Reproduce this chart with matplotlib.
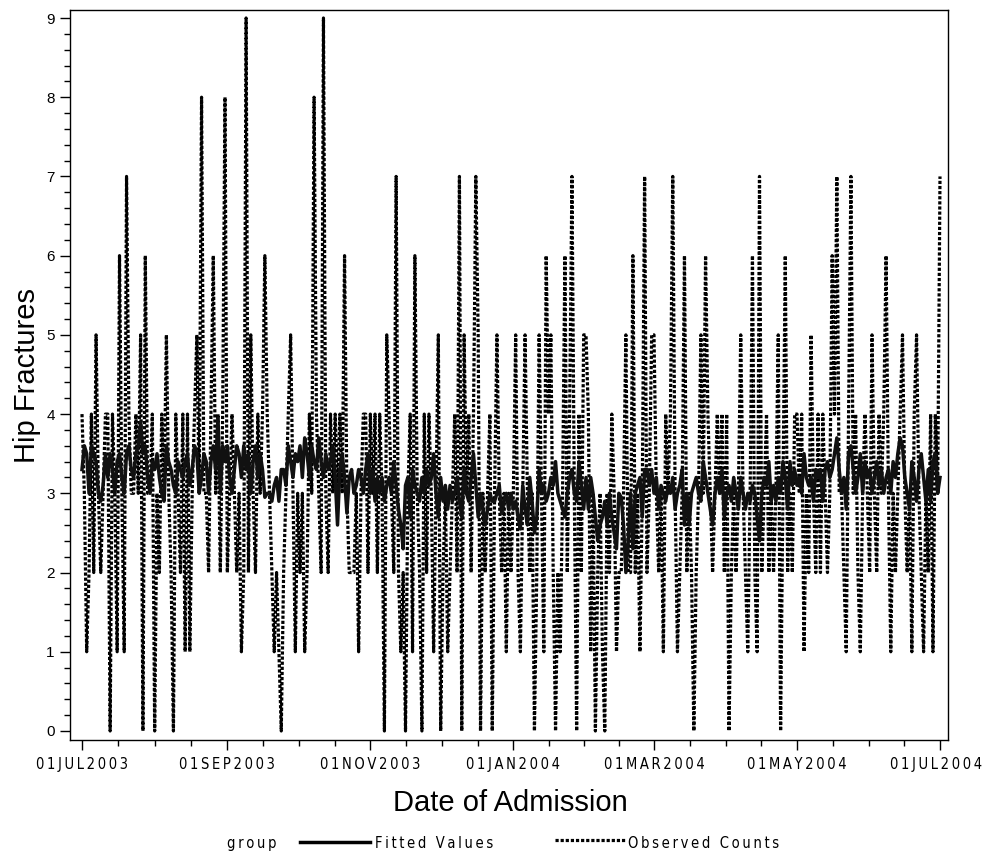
import numpy as np
import pandas as pd
import matplotlib
matplotlib.use("Agg")
import matplotlib.pyplot as plt
import matplotlib.dates as mdates
from matplotlib.lines import Line2D

# ---------------- data (daily, 01JUL2003 .. 01JUL2004) ----------------
obs_jul03 = [4,3,1,2,4,2,5,3,2,3,4,4,0,4,3,1,6,3,1,7,4,3,3,4,3,5,0,6,3,3,4]
obs_aug03 = [0,3,2,4,3,5,3,2,0,4,3,2,4,1,4,1,3,4,5,3,8,3,3,2,4,6,3,4,2,4,8]
obs_sep03 = [2,3,4,3,2,3,1,2,9,2,5,3,2,4,3,4,6,4,3,2,1,2,1,0,2,3,4,5,3,1]
obs_oct03 = [3,2,3,1,2,4,3,8,4,3,2,9,3,2,4,3,4,3,4,3,6,3,2,2,2,3,1,3,4,4,2]
obs_nov03 = [4,3,4,2,4,3,0,5,4,3,2,7,2,1,2,0,3,4,1,6,3,2,0,4,2,4,3,1,3,5]
obs_dec03 = [0,2,3,1,2,3,4,2,7,0,5,3,4,2,4,7,5,0,3,2,3,4,0,3,5,3,2,3,1,3,2]
obs_jan04 = [3,5,2,1,3,5,3,2,3,0,2,5,3,1,6,4,5,2,0,2,1,3,6,2,4,7,3,0,4,2,5]
obs_feb04 = [5,4,1,3,0,2,3,1,0,3,2,4,3,1,2,2,3,5,2,2,6,2,3,1,3,7,2,3,5]
obs_mar04 = [5,3,2,3,1,4,3,4,7,3,1,2,3,6,2,3,2,0,2,3,5,3,6,4,3,2,3,4,3,4,2]
obs_apr04 = [4,0,2,3,2,3,5,3,2,1,3,6,2,1,7,2,3,4,2,3,2,3,5,0,3,6,2,3,2,4]
obs_may04 = [4,3,4,1,3,2,5,3,2,4,2,4,3,2,3,6,4,7,3,3,2,1,4,7,3,4,2,1,3,4,3]
obs_jun04 = [2,5,3,2,4,3,4,6,3,1,3,2,3,4,5,3,2,3,1,4,5,3,2,1,3,2,4,1,4,3]
obs_jul04 = [7]

fit_jul03 = [3.3,3.6,3.5,3.0,3.6,3.5,3.4,3.0,2.9,3.1,3.5,3.2,3.5,3.3,3.0,3.4,3.5,3.2,3.0,3.5,3.6,3.3,3.2,3.5,3.6,3.9,3.5,3.6,3.2,3.0,3.4]
fit_aug03 = [3.3,3.5,3.2,3.0,2.9,3.6,3.4,3.3,3.1,3.0,3.4,3.3,3.2,3.4,3.5,3.1,3.3,3.6,3.5,3.0,3.2,3.5,3.4,3.0,3.4,3.6,3.3,3.95,3.0,3.6,3.4]
fit_sep03 = [3.6,3.2,3.0,3.3,3.6,3.5,3.2,3.6,3.3,3.5,3.0,3.4,3.6,3.2,3.5,3.3,2.95,3.0,3.0,2.9,3.1,3.2,2.9,3.3,3.3,3.1,3.6,3.4,3.2,3.5]
fit_oct03 = [3.4,3.6,3.2,3.7,3.5,3.2,3.6,3.4,3.3,3.7,3.4,3.2,3.5,3.3,3.4,3.6,3.2,2.6,3.3,3.5,3.2,2.75,3.2,3.3,3.0,3.1,3.3,3.2,3.0,3.3,3.5]
fit_nov03 = [3.0,3.3,2.9,3.2,3.0,3.2,2.9,3.1,3.2,3.0,3.4,3.1,2.8,2.6,2.3,3.1,3.2,2.7,3.3,3.1,3.0,2.9,3.2,3.0,3.3,3.1,3.2,3.5,3.0,2.7]
fit_dec03 = [3.2,2.9,3.1,2.8,3.1,2.9,3.0,3.2,2.9,2.7,3.3,3.0,2.9,3.2,3.5,3.1,2.7,3.0,2.8,2.6,2.8,3.0,2.9,2.9,3.0,3.1,2.75,2.9,3.0,2.8,3.0]
fit_jan04 = [2.8,2.9,2.7,2.55,3.1,2.8,2.6,3.2,2.9,2.5,2.7,3.3,3.0,3.1,2.9,3.0,3.2,3.1,3.4,3.0,2.9,2.8,2.7,3.0,3.2,3.3,3.0,2.9,3.4,3.1,2.8]
fit_feb04 = [3.2,2.8,3.2,3.0,2.7,2.4,2.6,2.7,2.9,2.6,3.0,2.7,2.5,2.3,3.0,2.95,2.6,2.0,2.4,3.0,2.3,3.0,3.1,3.2,2.7,3.3,3.3,3.1,3.3]
fit_mar04 = [3.0,3.2,2.8,3.1,3.0,2.9,3.1,3.0,3.2,2.8,3.0,3.1,3.3,2.6,3.0,2.6,3.0,3.1,3.2,3.0,2.9,3.4,3.2,3.0,2.8,2.6,3.0,3.2,3.0,3.3,2.7]
fit_apr04 = [3.0,3.1,2.9,3.2,3.0,2.8,3.2,3.0,2.8,3.0,2.9,3.1,3.0,2.7,2.4,3.0,3.2,3.1,3.4,2.9,3.1,2.9,3.2,3.0,3.4,3.2,2.8,3.4,3.1,3.3]
fit_may04 = [3.1,3.2,3.0,3.5,3.2,3.1,3.2,2.9,3.3,3.2,3.3,2.9,3.3,3.4,3.2,3.3,3.5,3.7,3.3,3.0,3.2,2.8,3.5,3.6,3.3,3.0,3.2,3.5,3.0,3.4,3.2]
fit_jun04 = [3.3,3.0,3.2,3.4,3.1,3.3,3.0,3.2,3.3,3.0,3.4,3.2,3.5,3.7,3.6,3.2,3.0,2.8,3.4,3.2,2.9,3.3,3.5,3.2,2.9,3.3,2.9,3.4,3.5,3.0]
fit_jul04 = [3.2]

tick_dates = ["2003-07-01", "2003-09-01", "2003-11-01", "2004-01-01",
              "2004-03-01", "2004-05-01", "2004-07-01"]
tick_labels = ["01JUL2003", "01SEP2003", "01NOV2003", "01JAN2004",
               "01MAR2004", "01MAY2004", "01JUL2004"]
x_label = "Date of Admission"
y_label = "Hip Fractures"
legend_title = "group"
legend_labels = ["Fitted Values", "Observed Counts"]

observed = (obs_jul03 + obs_aug03 + obs_sep03 + obs_oct03 + obs_nov03 + obs_dec03 +
            obs_jan04 + obs_feb04 + obs_mar04 + obs_apr04 + obs_may04 + obs_jun04 + obs_jul04)
fitted = (fit_jul03 + fit_aug03 + fit_sep03 + fit_oct03 + fit_nov03 + fit_dec03 +
          fit_jan04 + fit_feb04 + fit_mar04 + fit_apr04 + fit_may04 + fit_jun04 + fit_jul04)
dates = pd.date_range("2003-07-01", periods=len(observed), freq="D")
xd = mdates.date2num(dates.to_pydatetime())


def spaced(s):
    """Letter-spaced text like the SAS stroke font."""
    return "\u2009".join(s)


SAS_FONT = dict(family='DejaVu Sans', fontstretch='condensed', fontsize=10.5)

# ---------------- figure ----------------
plt.rcParams['font.family'] = ['Liberation Sans', 'DejaVu Sans']
fig = plt.figure(figsize=(10.04, 8.55), dpi=100)
ax = fig.add_axes([70/1004, 1-740/855, 878/1004, 730/855])

ax.plot(xd, observed, color='black', lw=2.3, dashes=(1.0, 0.6),
        dash_capstyle='butt', zorder=2)
ax.plot(xd, fitted, color='#111111', lw=2.5, solid_joinstyle='round', zorder=3)

# axes limits
x0 = xd[0]; x1 = xd[-1]
ppd = 858 / (x1 - x0)
ax.set_xlim(x0 - 12/ppd, x1 + 8/ppd)
ax.set_ylim(-0.114, 9.101)

# x ticks
tk = mdates.date2num(pd.to_datetime(tick_dates).to_pydatetime())
ax.set_xticks(tk)
ax.set_xticklabels([spaced(t) for t in tick_labels], **SAS_FONT)
minor = []
for a, b in zip(tk[:-1], tk[1:]):
    minor += list(a + (b - a) * np.array([0.25, 0.5, 0.75]))
ax.set_xticks(minor, minor=True)

# y ticks
ax.set_yticks(np.arange(0, 10, 1))
ax.set_yticklabels([str(i) for i in range(10)], fontsize=11)
ax.set_yticks(np.arange(0, 9.01, 0.2), minor=True)

ax.tick_params(axis='both', which='major', direction='out', length=7, width=1, color='black')
ax.tick_params(axis='both', which='minor', direction='out', length=4, width=1, color='black')
ax.tick_params(axis='x', which='major', pad=5)
ax.tick_params(axis='y', which='major', pad=4)
for s in ax.spines.values():
    s.set_linewidth(1.0)
    s.set_color('black')
# keep the last date label inside the figure as in the original
lbls = ax.get_xticklabels()
lbls[-1].set_horizontalalignment('right')
lbls[-1].set_x(tk[-1])
from matplotlib.transforms import ScaledTranslation
lbls[-1].set_transform(lbls[-1].get_transform() + ScaledTranslation(0.42, 0, fig.dpi_scale_trans))

ax.set_xlabel(x_label, fontsize=21, va='center')
ax.xaxis.set_label_coords(0.501, -0.0863)
ax.set_ylabel(y_label, fontsize=21, va='center')
ax.yaxis.set_label_coords(-0.049, 0.5)

# legend (manual layout)
ly = 1 - 843/855
fig.text(252/1004, ly, spaced(legend_title), ha='center', va='center', **SAS_FONT)
fig.add_artist(Line2D([300/1004, 370/1004], [ly + 0.001, ly + 0.001], color='black', lw=2.5,
                      transform=fig.transFigure))
fig.text(375/1004, ly, spaced(legend_labels[0]), ha='left', va='center', **SAS_FONT)
fig.add_artist(Line2D([555/1004, 625/1004], [ly + 0.004, ly + 0.004], color='black', lw=2.3,
                      dashes=(1.0, 0.6), transform=fig.transFigure))
fig.text(628/1004, ly, spaced(legend_labels[1]), ha='left', va='center', **SAS_FONT)

fig.savefig("out.png", dpi=100)
